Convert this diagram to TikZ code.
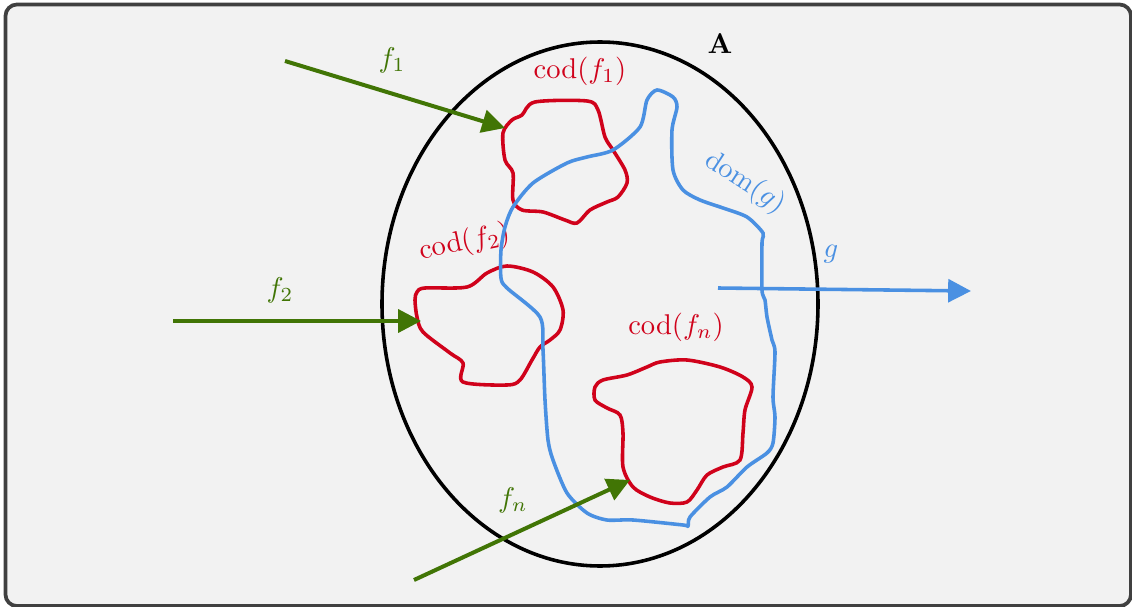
\documentclass[tikz,border=0pt]{standalone}
\usepackage{amsmath, amssymb}
\usepackage{tikz}
\usetikzlibrary{arrows.meta,positioning,calc}
\definecolor{CodRed}{RGB}{208, 2, 27}
\definecolor{DomBlue}{RGB}{74, 144, 226}
\definecolor{MapGreen}{RGB}{65, 117, 5}
\definecolor{PanelGray}{RGB}{242, 242, 242}
\definecolor{FrameGray}{RGB}{64, 64, 64}

\begin{document}
\begin{tikzpicture}[x=0.35pt, y=-0.35pt,
    maparrow/.style={line width=1.4pt, MapGreen, -{Triangle[length=8pt, width=8pt]}},
    codline/.style={line width=1.25pt, CodRed},
    domline/.style={line width=1.25pt, DomBlue},
    codlabel/.style={CodRed, inner sep=1pt},
    maplabel/.style={MapGreen, inner sep=1pt}]
  \useasboundingbox (0, 0) rectangle (1132, 607);
  \clip (0, 0) rectangle (1132, 607);

  % Panel
  \draw[line width=1.3pt, FrameGray, fill=PanelGray, rounded corners=4pt]
    (5.5, 4.5) rectangle (1131, 606);

  % The set A
  \draw[line width=1.25pt, black] (600, 304) ellipse (218 and 262);
  \node[font=\bfseries] (setA) at (720, 44) {A};

  % cod(f_1) - manual coordinates
  \draw[codline] plot[smooth cycle] coordinates {
    (522, 115) (535, 102) (587, 101) (598, 110) (605, 137) (613, 150) (625, 170)
    (627, 183) (618, 197) (607, 202) (590, 210) (577, 223) (565, 220) (543, 212)
    (522, 210) (513, 200) (513, 173) (505, 160) (503, 133) (512, 120)
  };
  \node[codlabel] (cod1) at (580, 71) {cod($f_1$)};

  % cod(f_2) - manual coordinates
  \draw[codline] plot[smooth cycle] coordinates {
    (417, 292) (425, 288) (467, 287) (487, 273) (507, 266) (533, 272) (553, 287)
    (563, 310) (560, 330) (550, 340) (540, 347) (532, 360) (520, 380) (507, 385)
    (463, 382) (463, 363) (450, 353) (423, 332) (417, 317) (415, 300)
  };
  \node[codlabel, rotate=12] (cod2) at (465, 243) {cod($f_2$)};

  % cod(f_n) - manual coordinates
  \draw[codline] plot[smooth cycle] coordinates {
    (595, 387) (603, 380) (627, 375) (647, 367) (660, 362) (687, 360) (720, 367)
    (743, 377) (752, 387) (745, 410) (743, 433) (740, 460) (723, 467) (707, 475)
    (697, 490) (687, 502) (670, 503) (650, 497) (633, 487) (623, 467) (623, 433)
    (620, 415) (607, 408) (595, 400)
  };
  \node[codlabel] (codn) at (676, 327) {cod($f_n$)};

  % dom(g) - manual coordinates
  \draw[domline] plot[smooth cycle, tension=0.45] coordinates {
    (657, 90) (647, 100) (640, 127) (613, 150) (587, 157) (567, 163) (533, 183)
    (513, 207) (505, 227) (501, 250) (501, 278) (507, 288) (540, 317) (543, 350)
    (545, 400) (548, 440) (553, 460) (567, 493) (587, 513) (607, 520) (633, 520)
    (683, 525) (688, 526) (690, 517) (710, 497) (727, 487) (747, 467) (767, 453)
    (773, 443) (775, 417) (773, 397) (775, 352) (772, 340) (767, 317) (765, 300)
    (762, 290) (762, 243) (763, 233) (747, 217) (723, 208) (700, 200) (683, 190)
    (673, 170) (672, 130) (677, 107) (673, 97)
  };
  \node[DomBlue, rotate=-33, inner sep=1pt] (domg) at (745, 183) {dom($g$)};

  % Incoming maps f_i
  \coordinate (f1tail) at (285, 61);
  \coordinate (f1head) at (505, 128);
  \draw[maparrow] (f1tail) -- (f1head);
  \node[maplabel] (f1) at (392, 60) {$f_1$};

  \coordinate (f2tail) at (173, 321);
  \coordinate (f2head) at (421, 321);
  \draw[maparrow] (f2tail) -- (f2head);
  \node[maplabel] (f2) at (280, 290) {$f_2$};

  \coordinate (fntail) at (414, 580);
  \coordinate (fnhead) at (630, 480);
  \draw[maparrow] (fntail) -- (fnhead);
  \node[maplabel] (fn) at (513, 500) {$f_n$};

  % Outgoing map g
  \coordinate (gtail) at (718, 288);
  \coordinate (ghead) at (971, 291);
  \draw[line width=1.25pt, DomBlue, -{Triangle[length=8pt, width=8pt]}] (gtail) -- (ghead);
  \node[DomBlue, inner sep=1pt] (g) at (831, 254) {$g$};
\end{tikzpicture}
\end{document}
